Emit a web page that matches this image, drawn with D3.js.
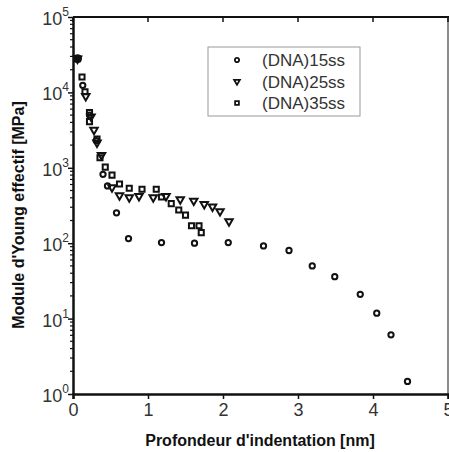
<!DOCTYPE html>
<html>
<head>
<meta charset="utf-8">
<script src="https://cdn.jsdelivr.net/npm/d3@7"></script>
<style>
  body { margin: 0; background: #fff; }
  text { font-family: "Liberation Sans", Arial, sans-serif; }
</style>
</head>
<body>
<div id="chart"></div>
<script>
// Données : [profondeur (nm), module (MPa)]
const seriesNames = ["(DNA)15ss", "(DNA)25ss", "(DNA)35ss"];

const dna15 = [
  [0.06, 28000], [0.13, 12400], [0.22, 5000], [0.31, 2300], [0.40, 820],
  [0.46, 575], [0.58, 253], [0.74, 115], [1.18, 102], [1.62, 100],
  [2.07, 102], [2.54, 92], [2.88, 80], [3.19, 50], [3.49, 36],
  [3.83, 21], [4.05, 11.8], [4.24, 6.1], [4.46, 1.47]
];
const dna25 = [
  [0.06, 28000], [0.17, 8900], [0.24, 4780], [0.28, 3170], [0.32, 2150],
  [0.38, 1470], [0.52, 550], [0.62, 430], [0.75, 405], [0.88, 420],
  [1.07, 405], [1.24, 420], [1.43, 380], [1.61, 365], [1.75, 330],
  [1.86, 305], [1.96, 265], [2.08, 195]
];
const dna35 = [
  [0.06, 28000], [0.12, 16000], [0.16, 10200], [0.22, 5400], [0.22, 4100],
  [0.32, 2400], [0.36, 1360], [0.43, 1020], [0.52, 800], [0.62, 610],
  [0.75, 535], [0.92, 520], [1.11, 520], [1.18, 410], [1.31, 335],
  [1.41, 275], [1.50, 236], [1.58, 170], [1.68, 170], [1.71, 138]
];

const xTicks = [0, 1, 2, 3, 4, 5];
const yTicks = [1, 10, 100, 1000, 10000, 100000];

const W = 449, H = 452;
const mLeft = 73, mRight = 448, mTop = 17, mBottom = 394;

const svg = d3.select("#chart").append("svg")
  .attr("width", W).attr("height", H);

const x = d3.scaleLinear().domain([0, 5]).range([mLeft, mRight]);
const y = d3.scaleLog().domain([1, 1e5]).range([mBottom, mTop]);

// Cadre
svg.append("line").attr("x1", mLeft).attr("x2", mRight + 1).attr("y1", mTop).attr("y2", mTop)
  .attr("stroke", "#111").attr("stroke-width", 2);
svg.append("line").attr("x1", mRight).attr("x2", mRight).attr("y1", mTop).attr("y2", mBottom)
  .attr("stroke", "#666").attr("stroke-width", 1.5);

// Graduations du haut (vers l'intérieur)
svg.append("g").selectAll("line").data(xTicks).enter().append("line")
  .attr("x1", d => x(d)).attr("x2", d => x(d))
  .attr("y1", mTop).attr("y2", mTop + 5)
  .attr("stroke", "#111").attr("stroke-width", 1.5);

// Axe X
const gx = svg.append("g").attr("transform", `translate(0,${mBottom})`)
  .call(d3.axisBottom(x).tickValues(xTicks).tickFormat(d3.format("d")).tickSize(5).tickPadding(4));
gx.select(".domain").attr("stroke", "#111").attr("stroke-width", 2.5);
gx.selectAll(".tick line").attr("stroke", "#111").attr("stroke-width", 1.5);
gx.selectAll("text").style("font-size", "18px").attr("fill", "#333")
  .style("font-family", "Liberation Sans, Arial, sans-serif");

// Axe Y (log) avec graduations mineures
const minor = [];
for (let e = 0; e < 5; e++) for (let k = 2; k <= 9; k++) minor.push(k * Math.pow(10, e));
const gy = svg.append("g").attr("transform", `translate(${mLeft},0)`)
  .call(d3.axisLeft(y).tickValues(yTicks).tickFormat("").tickSize(5).tickSizeOuter(0));
gy.select(".domain").attr("stroke", "#111").attr("stroke-width", 2.5);
gy.selectAll(".tick line").attr("stroke", "#111").attr("stroke-width", 1.5);
gy.append("g").selectAll("line").data(minor).enter().append("line")
  .attr("x1", -3).attr("x2", 0)
  .attr("y1", d => y(d)).attr("y2", d => y(d))
  .attr("stroke", "#111").attr("stroke-width", 1.2);

// Étiquettes 10^n
const yl = svg.append("g").selectAll("text").data(yTicks).enter().append("text")
  .attr("x", mLeft - 4)
  .attr("y", d => y(d) + 8)
  .attr("text-anchor", "end")
  .attr("fill", "#333")
  .style("font-size", "18px");
yl.append("tspan").text("10");
yl.append("tspan").attr("dy", -9).style("font-size", "12px").text(d => Math.round(Math.log10(d)));

// Symboles
const sym = {
  "(DNA)15ss": d3.symbol().type(d3.symbolCircle).size(22),
  "(DNA)25ss": d3.symbol().type(d3.symbolTriangle).size(24),
  "(DNA)35ss": d3.symbol().type(d3.symbolSquare).size(26)
};
const rot = name => name === "(DNA)25ss" ? " rotate(180)" : "";

const allSeries = [dna15, dna25, dna35];
allSeries.forEach((data, i) => {
  const name = seriesNames[i];
  svg.append("g").selectAll("path").data(data).enter().append("path")
    .attr("d", sym[name])
    .attr("transform", d => `translate(${x(d[0])},${y(d[1])})${rot(name)}`)
    .attr("fill", "none").attr("stroke", "#111").attr("stroke-width", 2);
});

// Point initial commun (rempli)
svg.append("circle").attr("cx", x(dna15[0][0])).attr("cy", y(dna15[0][1])).attr("r", 4.5).attr("fill", "#111");

// Légende
const leg = svg.append("g");
leg.append("rect").attr("x", 208).attr("y", 47).attr("width", 152).attr("height", 69)
  .attr("fill", "#fff").attr("stroke", "#999").attr("stroke-width", 1);
seriesNames.forEach((name, i) => {
  const ly = 60 + i * 21.5;
  leg.append("path")
    .attr("d", d3.symbol().type(sym[name].type()).size(14))
    .attr("transform", `translate(237,${ly})${rot(name)}`)
    .attr("fill", "none").attr("stroke", "#111").attr("stroke-width", 1.8);
  leg.append("text").attr("x", 262).attr("y", ly + 6)
    .attr("fill", "#333").style("font-size", "17px").text(name);
});

// Titres des axes
svg.append("text")
  .attr("x", 260).attr("y", 446)
  .attr("text-anchor", "middle")
  .style("font-size", "16px").style("font-weight", "bold")
  .attr("fill", "#111")
  .text("Profondeur d'indentation [nm]");

svg.append("text")
  .attr("transform", "translate(24,215) rotate(-90)")
  .attr("text-anchor", "middle")
  .style("font-size", "16px").style("font-weight", "bold")
  .attr("fill", "#111")
  .text("Module d'Young effectif [MPa]");
</script>
</body>
</html>
